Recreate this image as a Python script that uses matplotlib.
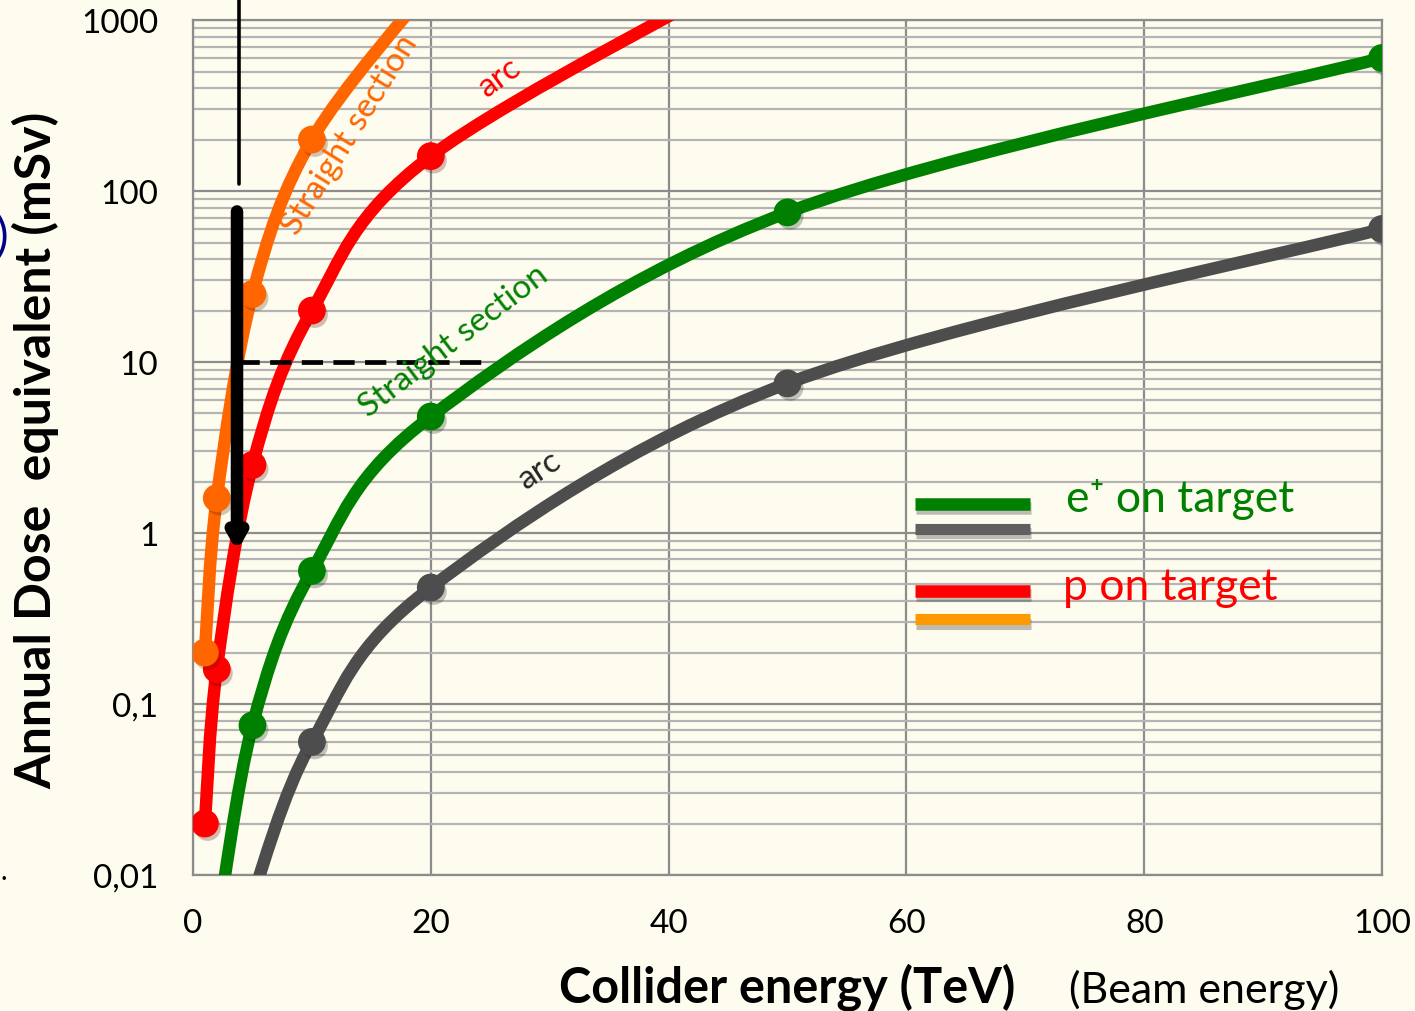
"""Annual dose equivalent vs collider energy, e+ and p on target."""
import numpy as np
import matplotlib
matplotlib.use("Agg")
from matplotlib import pyplot as plt
from matplotlib.path import Path
from matplotlib.patches import PathPatch
import matplotlib.patheffects as pe

plt.rcParams['font.family'] = ['Lato', 'DejaVu Sans']

# --- data (TeV, mSv) ---
# p on target, straight section
p_ss_E = [1, 2, 5, 10, 20]
p_ss_D = [0.2, 1.6, 25, 200, 1600]
p_ss_mark = [True, True, True, True, False]
# p on target, arc
p_arc_E = [1, 2, 5, 10, 20, 50]
p_arc_D = [0.02, 0.16, 2.5, 20, 160, 2500]
p_arc_mark = [True, True, True, True, True, False]
# e+ on target, straight section
e_ss_E = [2, 5, 10, 20, 50, 100]
e_ss_D = [0.0048, 0.075, 0.6, 4.8, 75, 600]
e_ss_mark = [False, True, True, True, True, True]
# e+ on target, arc
e_arc_E = [5, 10, 20, 50, 100]
e_arc_D = [0.0075, 0.06, 0.48, 7.5, 60]
e_arc_mark = [False, True, True, True, True]

ytick_vals = [0.01, 0.1, 1, 10, 100, 1000]
ytick_labels = ['0,01', '0,1', '1', '10', '100', '1000']
xtick_vals = [0, 20, 40, 60, 80, 100]

BG = '#FEFCEE'
C_ORANGE = '#FF6600'
C_RED = '#FF0000'
C_GREEN = '#008000'
C_GRAY = '#4D4D4D'


def smooth_path(xs, ys):
    # spreadsheet-style smoothed line: cubic Bezier through the points,
    # control points built in (x, log y) space
    P = np.column_stack([xs, np.log10(ys)])
    n = len(P)
    verts = [P[0]]
    codes = [Path.MOVETO]
    for i in range(n - 1):
        p0 = P[i - 1] if i > 0 else P[i]
        p1, p2 = P[i], P[i + 1]
        p3 = P[i + 2] if i + 2 < n else P[i + 1]
        c1 = p1 + (p2 - p0) / 6
        c2 = p2 - (p3 - p1) / 6
        verts += [c1, c2, p2]
        codes += [Path.CURVE4] * 3
    verts = np.array(verts)
    verts[:, 1] = 10 ** verts[:, 1]
    return Path(verts, codes)


fig = plt.figure(figsize=(14.15, 10.12), dpi=100, facecolor=BG)
ax = fig.add_axes([0.1364, 0.1344, 0.8403, 0.8448])
ax.set_facecolor(BG)
ax.set_yscale('log')
ax.set_xlim(0, 100)
ax.set_ylim(0.01, 1000)

# grid
ax.set_xticks(xtick_vals)
ax.set_yticks(ytick_vals)
ax.set_yticklabels(ytick_labels)
ax.grid(True, which='major', axis='both', color='#8C8C8C', lw=1.6, zorder=0)
ax.grid(True, which='minor', axis='y', color='#B4B4B4', lw=1.6, zorder=0)
ax.tick_params(which='both', length=0)
ax.tick_params(axis='y', labelsize=24, pad=25)
ax.tick_params(axis='x', labelsize=24, pad=24)
for s in ax.spines.values():
    s.set_color('#8C8C8C')
    s.set_linewidth(1.6)
ax.set_axisbelow(True)

series = [
    (e_arc_E, e_arc_D, e_arc_mark, C_GRAY),
    (e_ss_E, e_ss_D, e_ss_mark, C_GREEN),
    (p_arc_E, p_arc_D, p_arc_mark, C_RED),
    (p_ss_E, p_ss_D, p_ss_mark, C_ORANGE),
]
for E, D, mk, col in series:
    patch = PathPatch(smooth_path(E, D), fill=False, edgecolor=col, lw=9,
                      capstyle='round', joinstyle='round', zorder=3)
    ax.add_patch(patch)
    mE = [e for e, m in zip(E, mk) if m]
    mD = [d for d, m in zip(D, mk) if m]
    ax.plot(mE, mD, 'o', ms=19, color=col, mec=col, zorder=4,
            path_effects=[pe.SimplePatchShadow(offset=(2, -3), alpha=0.25),
                          pe.Normal()])

# 10 mSv limit and beam-energy markers
ax.plot([3.8, 24.6], [10, 10], color='black', lw=3.4, ls=(0, (4.5, 2.2)),
        zorder=5)
ax.plot([3.9, 3.9], [110, 2500], color='black', lw=2.6, zorder=5,
        clip_on=False, solid_capstyle='round')
ax.annotate('', xy=(3.7, 0.78), xytext=(3.7, 76),
            arrowprops=dict(arrowstyle='-|>,head_length=0.8,head_width=0.45',
                            color='black', lw=9, shrinkA=0, shrinkB=0),
            zorder=6)

# curve labels
ax.text(13.2, 214, 'Straight section', color=C_ORANGE, fontsize=24,
        rotation=58, ha='center', va='center', zorder=5)
ax.text(25.8, 470, 'arc', color=C_RED, fontsize=24, rotation=36,
        ha='center', va='center', zorder=5)
ax.text(21.9, 13.3, 'Straight section', color=C_GREEN, fontsize=24,
        rotation=37.5, ha='center', va='center', zorder=5)
ax.text(29.2, 2.35, 'arc', color='#262626', fontsize=24, rotation=33,
        ha='center', va='center', zorder=5)

# legend
leg = [(0.434, C_GREEN, 9), (0.405, '#606060', 8),
       (0.332, C_RED, 9), (0.299, '#FF9900', 8)]
for y, col, w in leg:
    ax.plot([0.607, 0.704], [y, y], transform=ax.transAxes, color=col,
            lw=w, solid_capstyle='butt', zorder=5,
            path_effects=[pe.SimpleLineShadow(offset=(1, -3), alpha=0.25),
                          pe.Normal()])
ax.text(0.734, 0.426, 'e\u207a on target', transform=ax.transAxes,
        color=C_GREEN, fontsize=32, va='baseline', ha='left')
ax.text(0.732, 0.323, 'p on target', transform=ax.transAxes,
        color=C_RED, fontsize=32, va='baseline', ha='left')

# axis titles
fig.text(0.556, 0.009, 'Collider energy (TeV)', fontsize=35,
         fontweight='bold', ha='center', va='baseline')
fig.text(0.851, 0.009, '(Beam energy)', fontsize=31, ha='center',
         va='baseline')
fig.text(0.025, 0.555, 'Annual Dose  equivalent (mSv)', fontsize=36,
         fontweight='bold', rotation=90, ha='center', va='center')

# edge fragments
fig.text(0.006, 0.765, ')', color='#00008B', fontsize=34, ha='right',
         va='center')
fig.text(0.0, 0.138, '.', color='black', fontsize=20, ha='left',
         va='center')

fig.savefig('out.png', dpi=100, facecolor=BG)
